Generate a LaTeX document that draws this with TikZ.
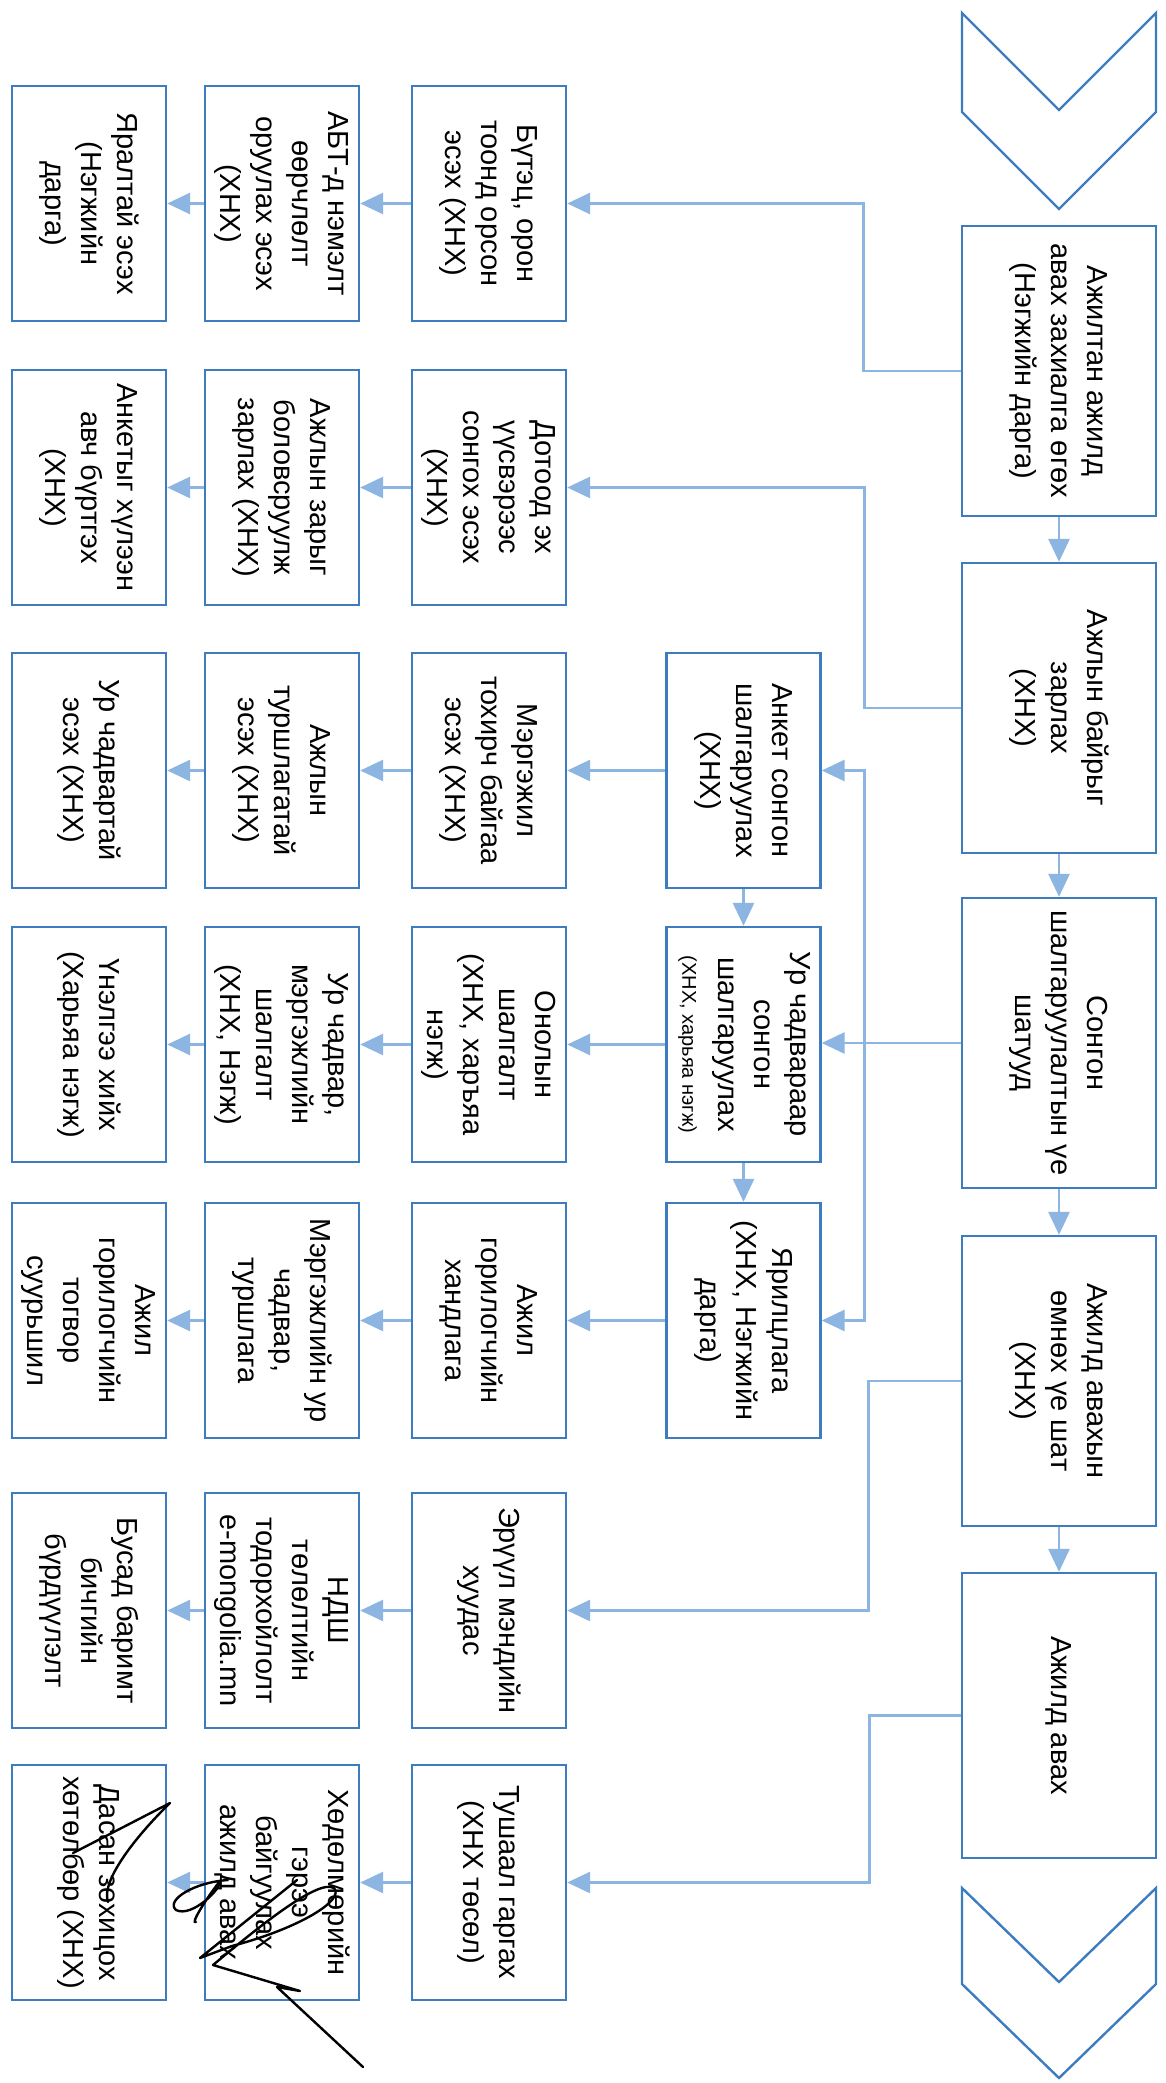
\documentclass[tikz,border=0pt]{standalone}
\usepackage{fontspec}
\setmainfont{Liberation Sans}
\usepackage{graphicx}
\usetikzlibrary{arrows.meta,calc}
\definecolor{boxblue}{HTML}{3D7DBF}
\definecolor{connblue}{HTML}{8DB5E2}
\newcommand{\rotlines}[1]{\rotatebox{-90}{\begin{tabular}{@{}c@{}}#1\end{tabular}}}
\tikzset{
 box/.style={draw=boxblue, line width=2.4pt, inner sep=0pt, align=center, font=\fontsize{29}{36}\selectfont},
 mainbox/.style={box, minimum width=194pt, minimum height=290pt},
 sidebox/.style={box, minimum width=154pt, minimum height=235pt},
 conn/.style={draw=connblue, line width=2.8pt},
 arr/.style={conn, -{Triangle[length=23pt,width=21pt,fill=connblue]}},
 chev/.style={draw=boxblue, line width=2.4pt, line join=miter},
 sig/.style={draw=black, line width=2.4pt, line cap=round, line join=round}
}
\begin{document}
\begin{tikzpicture}[x=1pt,y=-1pt]
\useasboundingbox (0,0) rectangle (1165,2083);
\fill[white] (0,0) rectangle (1165,2083);

% chevrons
\draw[chev] (962,13) -- (1059,110) -- (1156,13) -- (1156,112) -- (1059,209) -- (962,112) -- cycle;
\draw[chev] (962,1888) -- (1059,1982) -- (1156,1888) -- (1156,1984) -- (1059,2078) -- (962,1984) -- cycle;

% main column
\node[mainbox] (m1) at (1059,371) {\rotlines{Ажилтан ажилд\\авах захиалга өгөх\\(Нэгжийн дарга)}};
\node[mainbox] (m2) at (1059,708) {\rotlines{Ажлын байрыг\\зарлах\\(ХНХ)}};
\node[mainbox] (m3) at (1059,1043) {\rotlines{Сонгон\\шалгаруулалтын үе\\шатууд}};
\node[mainbox] (m4) at (1059,1381) {\rotlines{Ажилд авахын\\өмнөх үе шат\\(ХНХ)}};
\node[mainbox, minimum height=285pt] (m5) at (1059,1715.5) {\rotlines{Ажилд авах}};

% middle column
\node[sidebox] (mA) at (743.5,770.5) {\rotlines{Анкет сонгон\\шалгаруулах\\(ХНХ)}};
\node[sidebox] (mB) at (743.5,1044.5) {\rotlines{Ур чадвараар\\сонгон\\шалгаруулах\\{\fontsize{20}{24}\selectfont (ХНХ, харьяа нэгж)}}};
\node[sidebox] (mC) at (743.5,1320.5) {\rotlines{Ярилцлага\\(ХНХ, Нэгжийн\\дарга)}};

% column A
\node[sidebox] (a1) at (489,203.5) {\rotlines{Бүтэц, орон\\тоонд орсон\\эсэх (ХНХ)}};
\node[sidebox] (a2) at (489,487.5) {\rotlines{Дотоод эх\\үүсвэрээс\\сонгох эсэх\\(ХНХ)}};
\node[sidebox] (a3) at (489,770.5) {\rotlines{Мэргэжил\\тохирч байгаа\\эсэх (ХНХ)}};
\node[sidebox] (a4) at (489,1044.5) {\rotlines{Онолын\\шалгалт\\(ХНХ, харъяа\\нэгж)}};
\node[sidebox] (a5) at (489,1320.5) {\rotlines{Ажил\\горилогчийн\\хандлага}};
\node[sidebox] (a6) at (489,1610.5) {\rotlines{Эрүүл мэндийн\\хуудас}};
\node[sidebox] (a7) at (489,1882.5) {\rotlines{Тушаал гаргах\\(ХНХ төсөл)}};

% column B
\node[sidebox] (b1) at (282,203.5) {\rotlines{АБТ-д нэмэлт\\өөрчлөлт\\оруулах эсэх\\(ХНХ)}};
\node[sidebox] (b2) at (282,487.5) {\rotlines{Ажлын зарыг\\боловсруулж\\зарлах (ХНХ)}};
\node[sidebox] (b3) at (282,770.5) {\rotlines{Ажлын\\туршлагатай\\эсэх (ХНХ)}};
\node[sidebox] (b4) at (282,1044.5) {\rotlines{Ур чадвар,\\мэргэжлийн\\шалгалт\\(ХНХ, Нэгж)}};
\node[sidebox] (b5) at (282,1320.5) {\rotlines{Мэргэжлийн ур\\чадвар,\\туршлага}};
\node[sidebox] (b6) at (282,1610.5) {\rotlines{НДШ\\төлөлтийн\\тодорхойлолт\\e-mongolia.mn}};
\node[sidebox] (b7) at (282,1882.5) {\rotlines{Хөдөлмөрийн\\гэрээ\\байгуулах\\ажилд авах}};

% column C
\node[sidebox] (c1) at (89,203.5) {\rotlines{Яралтай эсэх\\(Нэгжийн\\дарга)}};
\node[sidebox] (c2) at (89,487.5) {\rotlines{Анкетыг хүлээн\\авч бүртгэх\\(ХНХ)}};
\node[sidebox] (c3) at (89,770.5) {\rotlines{Ур чадвартай\\эсэх (ХНХ)}};
\node[sidebox] (c4) at (89,1044.5) {\rotlines{Үнэлгээ хийх\\(Харьяа нэгж)}};
\node[sidebox] (c5) at (89,1320.5) {\rotlines{Ажил\\горилогчийн\\тогвор\\суурьшил}};
\node[sidebox] (c6) at (89,1610.5) {\rotlines{Бусад баримт\\бичгийн\\бүрдүүлэлт}};
\node[sidebox] (c7) at (89,1882.5) {\rotlines{Дасан зохицох\\хөтөлбөр (ХНХ)}};

% main column arrows
\draw[arr] (m1.south) -- (m2.north);
\draw[arr] (m2.south) -- (m3.north);
\draw[arr] (m3.south) -- (m4.north);
\draw[arr] (m4.south) -- (m5.north);

% main to left
\draw[arr] (m1.west) -- ++(-97,0) |- (a1.east);
\draw[arr] (m2.west) -- ++(-96,0) |- (a2.east);
\draw[arr] (m3.west) -- (m3.west -| mB.east);
\coordinate (jn) at ($(m3.west)+(-96,0)$);
\draw[arr] (jn) |- (mA.east);
\draw[arr] (jn) |- (mC.east);
\draw[arr] (m4.west) -- ++(-92,0) |- (a6.east);
\draw[arr] (m5.west) -- ++(-91,0) |- (a7.east);

% middle column
\draw[arr] (mA.south) -- (mB.north);
\draw[arr] (mB.south) -- (mC.north);
\draw[arr] (mA.west) -- (a3.east);
\draw[arr] (mB.west) -- (a4.east);
\draw[arr] (mC.west) -- (a5.east);

% rows
\foreach \r in {1,...,7}{
  \draw[arr] (a\r.west) -- (b\r.east);
  \draw[arr] (b\r.west) -- (c\r.east);
}

% signature
\draw[sig] (363,2067) -- (277,1987) -- (300,1991) -- (213,1965)
  .. controls (255,1930) and (318,1878) .. (334,1888)
  .. controls (345,1900) and (300,1928) .. (232,1946) -- (200,1958) -- (297,1880);
\draw[sig] (228,1880) .. controls (195,1882) and (165,1900) .. (176,1910)
  .. controls (192,1918) and (222,1888) .. (220,1881)
  .. controls (205,1900) and (190,1925) .. (196,1922);
\draw[sig] (108,1902) .. controls (100,1880) and (140,1832) .. (170,1803) -- (73,1853);
\end{tikzpicture}
\end{document}
